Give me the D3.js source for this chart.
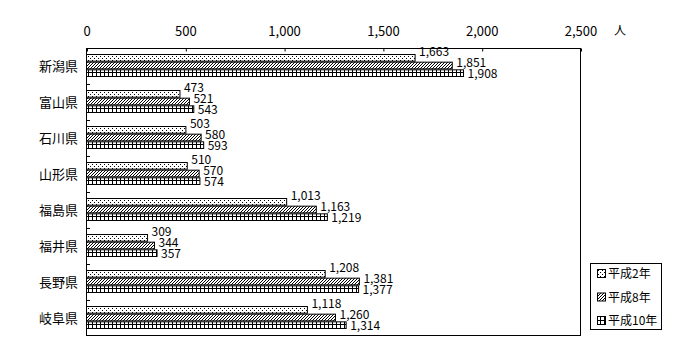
<!DOCTYPE html>
<html><head><meta charset="utf-8">
<script src="https://cdn.jsdelivr.net/npm/d3@7"></script>
<style>body{margin:0;background:#fff}svg{display:block}text{font-family:"Noto Sans CJK JP","DejaVu Sans",sans-serif;fill:#000}.num{font-family:"Liberation Sans Narrow","Noto Sans CJK JP",sans-serif}</style>
</head><body>
<script>
const categories = ["新潟県","富山県","石川県","山形県","福島県","福井県","長野県","岐阜県"];
const seriesNames = ["平成2年","平成8年","平成10年"];
const h2 = [1663,473,503,510,1013,309,1208,1118];
const h8 = [1851,521,580,570,1163,344,1381,1260];
const h10 = [1908,543,593,574,1219,357,1377,1314];
const tickValues = [0,500,1000,1500,2000,2500];
const unitLabel = "人";
const seriesValues = [h2,h8,h10];

const W=700,H=360;
const svg=d3.select("body").append("svg").attr("width",W).attr("height",H);
const defs=svg.append("defs");
const pDot=defs.append("pattern").attr("id","p0").attr("patternUnits","userSpaceOnUse").attr("width",4).attr("height",4);
pDot.append("rect").attr("width",4).attr("height",4).attr("fill","#fff");
pDot.append("rect").attr("x",0).attr("y",0).attr("width",1).attr("height",1).attr("fill","#000");
pDot.append("rect").attr("x",2).attr("y",2).attr("width",1).attr("height",1).attr("fill","#000");
const pHatch=defs.append("pattern").attr("id","p1").attr("patternUnits","userSpaceOnUse").attr("width",3).attr("height",3);
pHatch.append("rect").attr("width",3).attr("height",3).attr("fill","#fff");
pHatch.append("path").attr("d","M-1,1 L1,-1 M0,3 L3,0 M2,4 L4,2").attr("stroke","#000").attr("stroke-width",1);
const pGrid=defs.append("pattern").attr("id","p2").attr("patternUnits","userSpaceOnUse").attr("width",4).attr("height",4);
pGrid.append("rect").attr("width",4).attr("height",4).attr("fill","#fff");
pGrid.append("rect").attr("x",0).attr("y",0).attr("width",1).attr("height",4).attr("fill","#000");
pGrid.append("rect").attr("x",0).attr("y",0).attr("width",4).attr("height",1).attr("fill","#000");

const x=d3.scaleLinear().domain([0,2500]).range([86.5,580.5]);
const y=d3.scaleBand().domain(categories).range([48,336]);
const yi=d3.scaleBand().domain([0,1,2]).range([6,29]).padding(0);

svg.append("rect").attr("x",86.5).attr("y",48.5).attr("width",494).attr("height",287).attr("fill","none").attr("stroke","#000");

const ax=svg.append("g").attr("transform","translate(0,48.5)")
  .call(d3.axisTop(x).tickValues(tickValues).tickSize(-3).tickPadding(13).tickFormat(d3.format(",")));
ax.select(".domain").remove();
ax.selectAll("line").attr("stroke","#000").attr("transform","translate(0.5,0)");
ax.selectAll("text").attr("font-size",13).attr("class","num").style("font-family",null);
svg.append("text").attr("x",620).attr("y",35).attr("font-size",12).attr("text-anchor","middle").text(unitLabel);

svg.append("g").selectAll("line").data(categories.slice(1)).join("line")
  .attr("x1",86.5).attr("x2",90).attr("y1",d=>Math.round(y(d))+0.5).attr("y2",d=>Math.round(y(d))+0.5).attr("stroke","#000");

svg.append("g").selectAll("text").data(categories).join("text")
  .attr("x",78).attr("y",d=>y(d)+y.bandwidth()/2).attr("dy","0.35em")
  .attr("text-anchor","end").attr("font-size",13).text(d=>d);

seriesValues.forEach((vals,s)=>{
  const g=svg.append("g");
  g.selectAll("rect").data(vals).join("rect")
    .attr("x",x(0)).attr("y",(d,i)=>y(categories[i])+yi(s)+0.5)
    .attr("width",d=>x(d)-x(0)).attr("height",yi.bandwidth()-1)
    .attr("fill",`url(#p${s})`).attr("stroke","#000").attr("stroke-width",1);
  g.selectAll("text").data(vals).join("text").attr("class","num")
    .attr("x",d=>x(d)+4).attr("y",(d,i)=>y(categories[i])+4+s*11)
    .attr("dy","0.35em").attr("font-size",12).text(d=>d3.format(",")(d));
});

const lg=svg.append("g");
lg.append("rect").attr("x",590.5).attr("y",263.5).attr("width",71).attr("height",66).attr("fill","#fff").attr("stroke","#000");
seriesNames.forEach((n,i)=>{
  const cy=274+i*23.5;
  lg.append("rect").attr("x",597.5).attr("y",cy-4.5).attr("width",8).attr("height",8).attr("fill",`url(#p${i})`).attr("stroke","#000");
  lg.append("text").attr("x",608).attr("y",cy).attr("dy","0.35em").attr("font-size",12).text(n);
});
</script>
</body></html>
